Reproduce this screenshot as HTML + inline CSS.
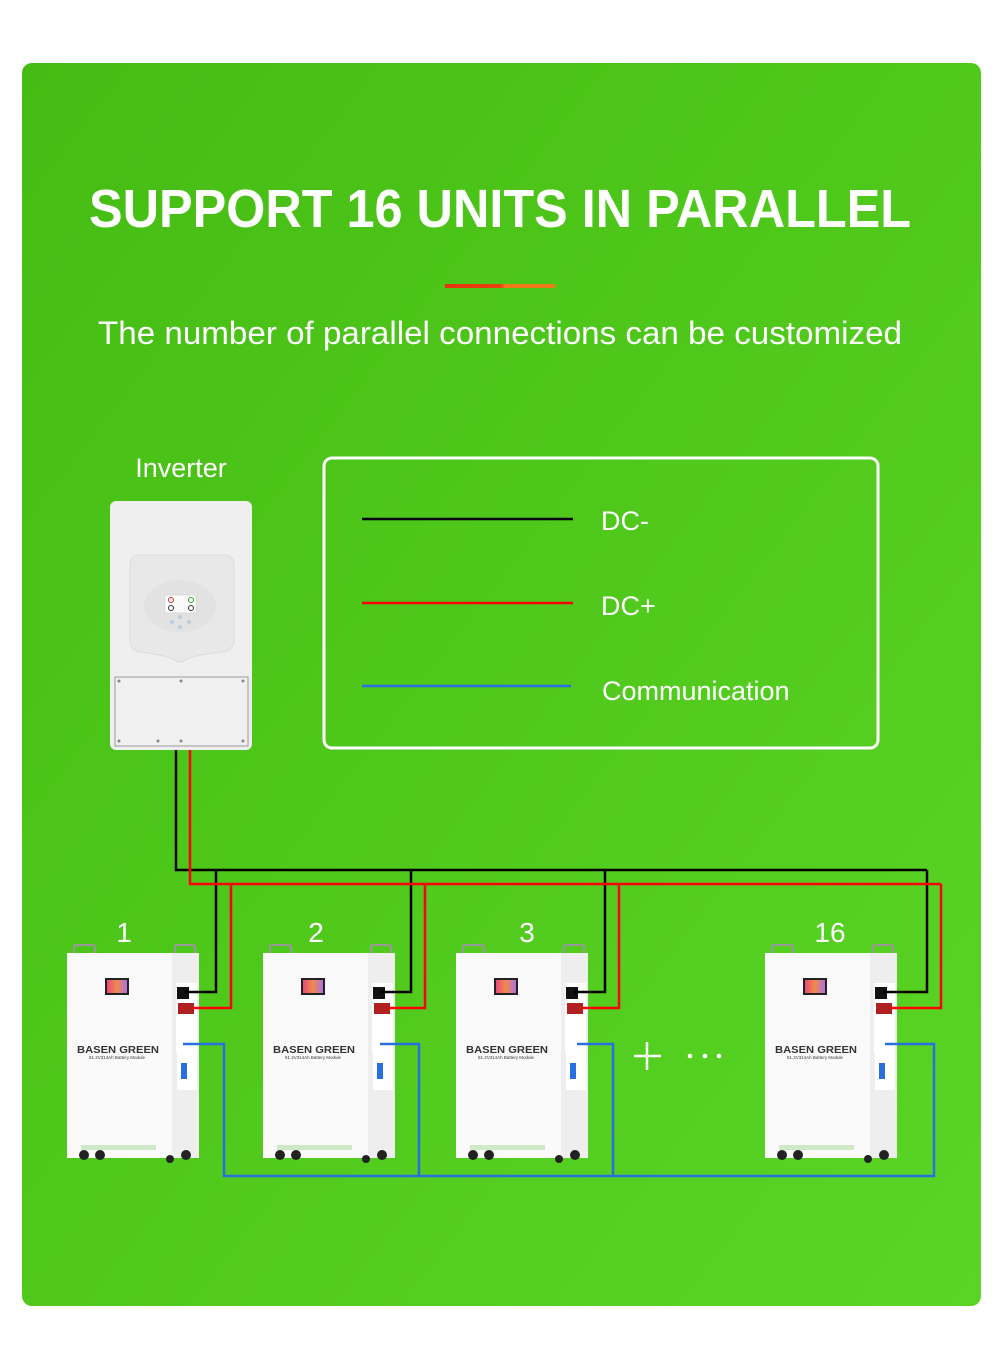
<!DOCTYPE html>
<html><head><meta charset="utf-8"><style>
html,body{margin:0;padding:0;background:#fff;width:1000px;height:1355px;overflow:hidden}
svg{display:block}
text{font-family:"Liberation Sans",sans-serif}
</style></head><body>
<svg width="1000" height="1355" viewBox="0 0 1000 1355" xmlns="http://www.w3.org/2000/svg">
<defs>
<linearGradient id="bg" x1="0" y1="0" x2="1" y2="1">
<stop offset="0" stop-color="#45bc13"/><stop offset="1" stop-color="#5ad525"/>
</linearGradient>
<linearGradient id="ol" x1="0" x2="1"><stop offset="0" stop-color="#e8320e"/><stop offset="0.5" stop-color="#e8420e"/><stop offset="0.55" stop-color="#f07a1a"/><stop offset="1" stop-color="#f07a1a"/></linearGradient>
<linearGradient id="scr" x1="0" x2="1"><stop offset="0" stop-color="#e94b7a"/><stop offset="0.5" stop-color="#f08a4a"/><stop offset="1" stop-color="#b070e0"/></linearGradient>
</defs>
<rect x="22" y="63" width="959" height="1243" rx="10" fill="url(#bg)"/>
<text x="500" y="227" text-anchor="middle" font-size="54" font-weight="bold" fill="#fff" textLength="822" lengthAdjust="spacingAndGlyphs">SUPPORT 16 UNITS IN PARALLEL</text>
<rect x="445" y="284" width="110" height="4" fill="url(#ol)"/>
<text x="500" y="344" text-anchor="middle" font-size="32" fill="#fff" textLength="804" lengthAdjust="spacingAndGlyphs">The number of parallel connections can be customized</text>

<text x="181" y="477" text-anchor="middle" font-size="27" fill="#fff">Inverter</text>
<!-- inverter -->
<rect x="110" y="501" width="142" height="249" rx="6" fill="#efefef"/>
<path d="M140 555 H224 Q234 555 234 566 V640 Q234 650 222 652 Q195 655 185 660 Q180 664 175 660 Q165 655 140 652 Q130 650 130 640 V566 Q130 555 140 555Z" fill="#e8e8e8" stroke="#dcdcdc"/>
<ellipse cx="180" cy="606" rx="36" ry="26" fill="#e2e2e2"/>
<rect x="165" y="595" width="31" height="18" fill="#fafafa" stroke="#ccc" stroke-width="0.5"/>
<circle cx="171" cy="600" r="2.5" fill="none" stroke="#d33"/><circle cx="191" cy="600" r="2.5" fill="none" stroke="#3a3"/>
<circle cx="171" cy="608" r="2.5" fill="none" stroke="#333"/><circle cx="191" cy="608" r="2.5" fill="none" stroke="#333"/>
<circle cx="180" cy="617" r="2" fill="#bcd"/><circle cx="172" cy="622" r="2" fill="#bcd"/><circle cx="189" cy="622" r="2" fill="#bcd"/><circle cx="180" cy="627" r="2" fill="#bcd"/>
<rect x="115" y="677" width="133" height="69" fill="#f0f0f0" stroke="#999" stroke-width="1"/>
<g fill="#888"><circle cx="119" cy="681" r="1.5"/><circle cx="181" cy="681" r="1.5"/><circle cx="243" cy="681" r="1.5"/><circle cx="119" cy="741" r="1.5"/><circle cx="158" cy="741" r="1.5"/><circle cx="181" cy="741" r="1.5"/><circle cx="243" cy="741" r="1.5"/></g>

<!-- legend -->
<rect x="324" y="458" width="554" height="290" rx="8" fill="none" stroke="#fff" stroke-width="3"/>
<line x1="362" y1="519" x2="573" y2="519" stroke="#000" stroke-width="2.5"/>
<line x1="362" y1="603" x2="573" y2="603" stroke="#f00" stroke-width="2.5"/>
<line x1="362" y1="686" x2="571" y2="686" stroke="#2a6fe0" stroke-width="2.5"/>
<text x="601" y="530" font-size="27" fill="#fff">DC-</text>
<text x="601" y="615" font-size="27" fill="#fff">DC+</text>
<text x="602" y="700" font-size="27" fill="#fff">Communication</text>

<!-- numbers -->
<g font-size="28" fill="#fff" text-anchor="middle">
<text x="124" y="942">1</text><text x="316" y="942">2</text><text x="527" y="942">3</text><text x="830" y="942">16</text>
</g>
<!-- plus / dots -->
<line x1="634" y1="1056" x2="661" y2="1056" stroke="#fff" stroke-width="2.5"/>
<line x1="647" y1="1042" x2="647" y2="1070" stroke="#fff" stroke-width="2.5"/>
<circle cx="690" cy="1056" r="2.3" fill="#fff"/><circle cx="705" cy="1056" r="2.3" fill="#fff"/><circle cx="719" cy="1056" r="2.3" fill="#fff"/>

<!-- batteries -->
<g id="b1" transform="translate(67,945)">
<rect x="7" y="0" width="21" height="10" rx="2" fill="none" stroke="#999" stroke-width="2"/>
<rect x="108" y="0" width="20" height="10" rx="2" fill="none" stroke="#999" stroke-width="2"/>
<rect x="0" y="8" width="132" height="205" fill="#fafafa"/>
<rect x="105" y="8" width="27" height="205" fill="#eeeeee"/>
<rect x="38" y="33" width="24" height="17" fill="#222"/><rect x="40" y="35" width="20" height="13" fill="url(#scr)"/>
<rect x="109" y="38" width="21" height="70" fill="#fff"/>
<rect x="110" y="42" width="12" height="12" fill="#111"/>
<rect x="111" y="58" width="16" height="11" fill="#b02020"/>
<rect x="110" y="107" width="20" height="38" fill="#fff"/>
<rect x="114" y="118" width="6" height="16" fill="#2a6fe0"/>
<text x="10" y="108" font-size="10" font-weight="bold" fill="#333" textLength="82" lengthAdjust="spacingAndGlyphs">BASEN GREEN</text>
<text x="22" y="114" font-size="4.5" fill="#333" textLength="56" lengthAdjust="spacingAndGlyphs">51.2V314Ah Battery Module</text>
<rect x="14" y="200" width="75" height="5" fill="#cfe8c8"/>
<circle cx="17" cy="210" r="5" fill="#222"/><circle cx="33" cy="210" r="5" fill="#222"/>
<circle cx="103" cy="214" r="4" fill="#222"/><circle cx="119" cy="210" r="5" fill="#222"/>
</g>
<g transform="translate(263,945)">
<rect x="7" y="0" width="21" height="10" rx="2" fill="none" stroke="#999" stroke-width="2"/>
<rect x="108" y="0" width="20" height="10" rx="2" fill="none" stroke="#999" stroke-width="2"/>
<rect x="0" y="8" width="132" height="205" fill="#fafafa"/>
<rect x="105" y="8" width="27" height="205" fill="#eeeeee"/>
<rect x="38" y="33" width="24" height="17" fill="#222"/><rect x="40" y="35" width="20" height="13" fill="url(#scr)"/>
<rect x="109" y="38" width="21" height="70" fill="#fff"/>
<rect x="110" y="42" width="12" height="12" fill="#111"/>
<rect x="111" y="58" width="16" height="11" fill="#b02020"/>
<rect x="110" y="107" width="20" height="38" fill="#fff"/>
<rect x="114" y="118" width="6" height="16" fill="#2a6fe0"/>
<text x="10" y="108" font-size="10" font-weight="bold" fill="#333" textLength="82" lengthAdjust="spacingAndGlyphs">BASEN GREEN</text>
<text x="22" y="114" font-size="4.5" fill="#333" textLength="56" lengthAdjust="spacingAndGlyphs">51.2V314Ah Battery Module</text>
<rect x="14" y="200" width="75" height="5" fill="#cfe8c8"/>
<circle cx="17" cy="210" r="5" fill="#222"/><circle cx="33" cy="210" r="5" fill="#222"/>
<circle cx="103" cy="214" r="4" fill="#222"/><circle cx="119" cy="210" r="5" fill="#222"/>
</g>
<g transform="translate(456,945)">
<rect x="7" y="0" width="21" height="10" rx="2" fill="none" stroke="#999" stroke-width="2"/>
<rect x="108" y="0" width="20" height="10" rx="2" fill="none" stroke="#999" stroke-width="2"/>
<rect x="0" y="8" width="132" height="205" fill="#fafafa"/>
<rect x="105" y="8" width="27" height="205" fill="#eeeeee"/>
<rect x="38" y="33" width="24" height="17" fill="#222"/><rect x="40" y="35" width="20" height="13" fill="url(#scr)"/>
<rect x="109" y="38" width="21" height="70" fill="#fff"/>
<rect x="110" y="42" width="12" height="12" fill="#111"/>
<rect x="111" y="58" width="16" height="11" fill="#b02020"/>
<rect x="110" y="107" width="20" height="38" fill="#fff"/>
<rect x="114" y="118" width="6" height="16" fill="#2a6fe0"/>
<text x="10" y="108" font-size="10" font-weight="bold" fill="#333" textLength="82" lengthAdjust="spacingAndGlyphs">BASEN GREEN</text>
<text x="22" y="114" font-size="4.5" fill="#333" textLength="56" lengthAdjust="spacingAndGlyphs">51.2V314Ah Battery Module</text>
<rect x="14" y="200" width="75" height="5" fill="#cfe8c8"/>
<circle cx="17" cy="210" r="5" fill="#222"/><circle cx="33" cy="210" r="5" fill="#222"/>
<circle cx="103" cy="214" r="4" fill="#222"/><circle cx="119" cy="210" r="5" fill="#222"/>
</g>
<g transform="translate(765,945)">
<rect x="7" y="0" width="21" height="10" rx="2" fill="none" stroke="#999" stroke-width="2"/>
<rect x="108" y="0" width="20" height="10" rx="2" fill="none" stroke="#999" stroke-width="2"/>
<rect x="0" y="8" width="132" height="205" fill="#fafafa"/>
<rect x="105" y="8" width="27" height="205" fill="#eeeeee"/>
<rect x="38" y="33" width="24" height="17" fill="#222"/><rect x="40" y="35" width="20" height="13" fill="url(#scr)"/>
<rect x="109" y="38" width="21" height="70" fill="#fff"/>
<rect x="110" y="42" width="12" height="12" fill="#111"/>
<rect x="111" y="58" width="16" height="11" fill="#b02020"/>
<rect x="110" y="107" width="20" height="38" fill="#fff"/>
<rect x="114" y="118" width="6" height="16" fill="#2a6fe0"/>
<text x="10" y="108" font-size="10" font-weight="bold" fill="#333" textLength="82" lengthAdjust="spacingAndGlyphs">BASEN GREEN</text>
<text x="22" y="114" font-size="4.5" fill="#333" textLength="56" lengthAdjust="spacingAndGlyphs">51.2V314Ah Battery Module</text>
<rect x="14" y="200" width="75" height="5" fill="#cfe8c8"/>
<circle cx="17" cy="210" r="5" fill="#222"/><circle cx="33" cy="210" r="5" fill="#222"/>
<circle cx="103" cy="214" r="4" fill="#222"/><circle cx="119" cy="210" r="5" fill="#222"/>
</g>

<!-- wires -->
<g fill="none" stroke-width="2.5">
<path d="M176 750 V870 H927" stroke="#000"/>
<path d="M216 870 V992 H185 M411 870 V992 H381 M605 870 V992 H574 M927 870 V992 H883" stroke="#000"/>
<path d="M190 750 V884 H941" stroke="#f00"/>
<path d="M231 884 V1008 H193 M425 884 V1008 H389 M619 884 V1008 H582 M941 884 V1008 H891" stroke="#f00"/>
<path d="M183 1044 H224 V1176 H934 V1044 H885 M380 1044 H419 V1176 M577 1044 H613 V1176" stroke="#2a6fe0"/>
</g>
</svg>
</body></html>
